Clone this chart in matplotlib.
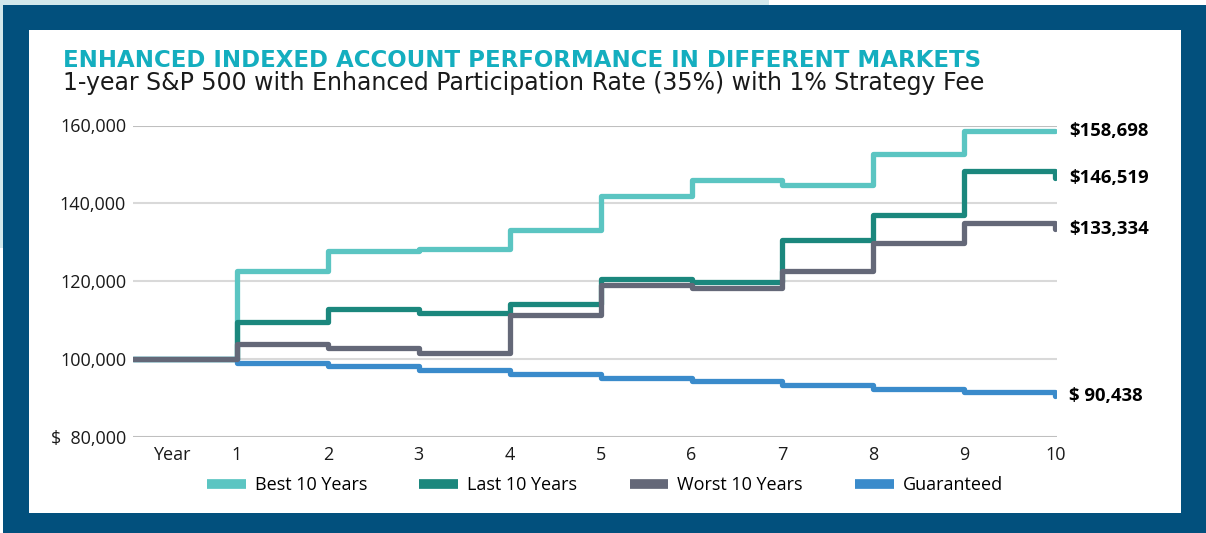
import numpy as np
import matplotlib
matplotlib.use("Agg")
import matplotlib.pyplot as plt
from matplotlib.patches import Rectangle

plt.rcParams['font.family'] = ['Open Sans', 'DejaVu Sans']

# data
years = list(range(1, 11))
series_names = ["Best 10 Years", "Last 10 Years", "Worst 10 Years", "Guaranteed"]
start_value = 100000
best = [122600, 127800, 128300, 133200, 141800, 146000, 144700, 152700, 158698, 158698]
last = [109500, 112850, 111650, 114100, 120500, 119700, 130600, 137100, 148300, 146519]
worst = [103900, 102700, 101600, 111200, 119000, 118200, 122600, 129800, 134900, 133334]
guaranteed = [99000, 98010, 97030, 96060, 95100, 94150, 93210, 92270, 91350, 90438]
end_labels = ["$158,698", "$146,519", "$133,334", "$ 90,438"]
y_ticks = [80000, 100000, 120000, 140000, 160000]
y_labels = ["$  80,000", "100,000", "120,000", "140,000", "160,000"]

colors = ["#5BC5C2", "#1B877D", "#646878", "#3A8BCB"]
zorders = [3, 4, 6, 5]

W, H = 1206, 533
fig = plt.figure(figsize=(W / 100, H / 100), dpi=100)
fig.patch.set_facecolor("white")

def px_rect(x0, y0, x1, y1, color):
    # rectangle given in pixel coords, y from top
    fig.patches.append(Rectangle((x0 / W, 1 - y1 / H), (x1 - x0) / W, (y1 - y0) / H,
                                 transform=fig.transFigure, facecolor=color,
                                 edgecolor="none", zorder=-10))

px_rect(0, 0, 769, 5, "#D3E8EC")
px_rect(0, 0, 3, 248, "#D3E8EC")
px_rect(3, 5, W, H, "#02507D")
px_rect(29, 30, 1181, 513, "white")

ax = fig.add_axes([133 / W, 1 - 436.5 / H, (1057 - 133) / W, (436.5 - 125.5) / H])
ax.set_facecolor("none")

x_left = -0.144
xs = [x_left] + years
for name, vals, c, z in zip(series_names, [best, last, worst, guaranteed], colors, zorders):
    # hold each year's value until the next year, last point drops to the final value
    ys = [start_value] + vals
    ax.plot(xs, ys, drawstyle="steps-post", color=c, lw=3.8, label=name, zorder=z,
            solid_capstyle="round", solid_joinstyle="round")

for lab, vals in zip(end_labels, [best, last, worst, guaranteed]):
    ax.annotate(lab, xy=(years[-1], vals[-1]), xytext=(10, 0), textcoords="offset points",
                va="center", ha="left", fontsize=13.3, fontweight="bold", color="black",
                annotation_clip=False)

ax.set_xlim(x_left, 10.02)
ax.set_ylim(80000, 160000)
ax.set_yticks(y_ticks)
ax.set_yticklabels(y_labels)
ax.set_xticks([0.285] + years)
ax.set_xticklabels(["Year"] + [str(y) for y in years])
ax.tick_params(length=0, labelsize=13, colors="#1a1a1a")
ax.tick_params(axis="y", pad=5)
ax.tick_params(axis="x", pad=7)
for s in ax.spines.values():
    s.set_visible(False)
for v in y_ticks:
    gc = "#BFBFBF" if v in (80000, 160000) else "#D9D9D9"
    ax.axhline(v, color=gc, lw=1.5, zorder=1)

leg = ax.legend(loc="center", bbox_to_anchor=(605 / W, 48 / H), bbox_transform=fig.transFigure,
                ncol=4, frameon=False, fontsize=13, handlelength=2.15, handletextpad=0.5,
                columnspacing=2.9)
for line in leg.get_lines():
    line.set_linewidth(7)
    line.set_solid_capstyle("butt")

fig.text(63 / W, 1 - 67 / H, "ENHANCED INDEXED ACCOUNT PERFORMANCE IN DIFFERENT MARKETS",
         fontsize=16.5, fontweight="bold", color="#14AEBF", va="baseline", ha="left",
         family="DejaVu Sans")
fig.text(63 / W, 1 - 90 / H, "1-year S&P 500 with Enhanced Participation Rate (35%) with 1% Strategy Fee",
         fontsize=17, color="#1a1a1a", va="baseline", ha="left", family="DejaVu Sans")

fig.savefig("out.png", dpi=100)
